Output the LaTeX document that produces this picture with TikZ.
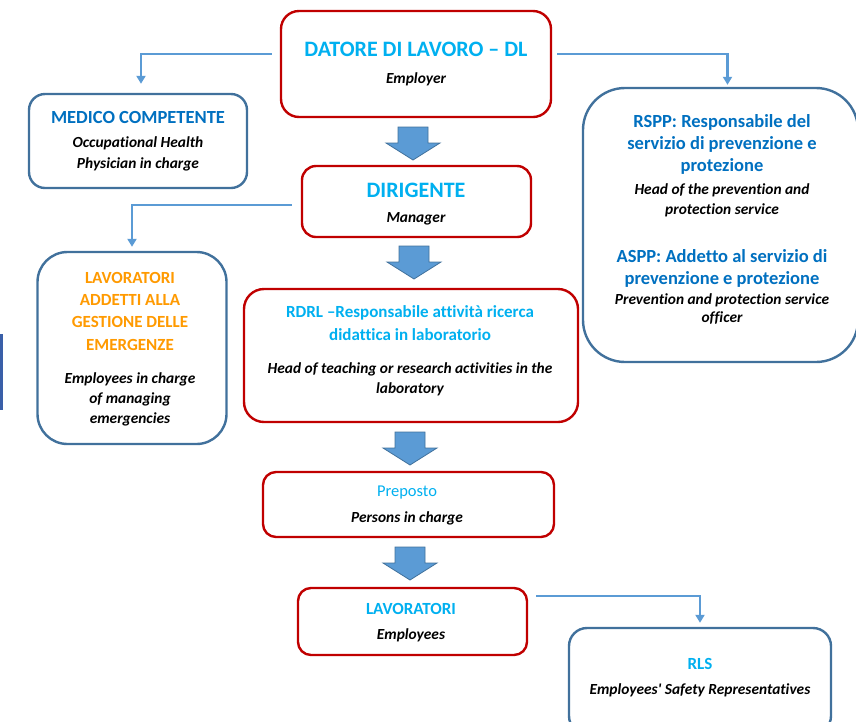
\documentclass[tikz,border=0pt]{standalone}
\usepackage{fontspec}
\setmainfont{Carlito}[Ligatures={TeXOff,NoCommon}]
\usetikzlibrary{arrows.meta}
\definecolor{ltblue}{HTML}{00B0F0}
\definecolor{dkblue}{HTML}{0070C0}
\definecolor{orng}{HTML}{FF9A00}
\definecolor{redc}{HTML}{C00000}
\definecolor{bluec}{HTML}{41719C}
\definecolor{connc}{HTML}{5B9BD5}
\definecolor{artc}{HTML}{3A5FA8}
\tikzset{
  box/.style={rectangle, fill=white, line width=2.4pt, inner sep=0pt},
  redbox/.style={box, draw=redc},
  bluebox/.style={box, draw=bluec},
  txt/.style={anchor=base, inner sep=0pt},
  hA/.style={txt, font=\bfseries\fontsize{22}{24}\selectfont, text=ltblue},
  hB/.style={txt, font=\bfseries\fontsize{18.5}{22}\selectfont, text=dkblue},
  hC/.style={txt, font=\bfseries\fontsize{17}{20}\selectfont, text=ltblue},
  hD/.style={txt, font=\bfseries\fontsize{17}{20}\selectfont, text=orng},
  hE/.style={txt, font=\fontsize{16.5}{20}\selectfont, text=ltblue},
  sub/.style={txt, font=\bfseries\itshape\fontsize{15.4}{18}\selectfont, text=black},
  conn/.style={draw=connc, line width=2.3pt, -{Triangle[width=9pt,length=8pt]}},
  blockarrow/.style={fill=connc, draw=bluec, line width=0.8pt, line join=miter}
}
\begin{document}
\begin{tikzpicture}[x=1pt,y=-1pt]
\useasboundingbox (0,0) rectangle (856,721);
\fill[artc] (0,334) rectangle (3,410);

% boxes
\node[redbox, rounded corners=18pt, minimum width=270pt, minimum height=106pt] (dl) at (416,64) {};
\node[bluebox, rounded corners=16pt, minimum width=218pt, minimum height=94pt] (medico) at (138,141) {};
\node[bluebox, rounded corners=42pt, minimum width=275pt, minimum height=274pt] (rspp) at (720.5,225) {};
\node[redbox, rounded corners=14pt, minimum width=229pt, minimum height=71pt] (dir) at (416.5,201.5) {};
\node[bluebox, rounded corners=30pt, minimum width=189pt, minimum height=192pt] (emerg) at (132,348) {};
\node[redbox, rounded corners=20pt, minimum width=334pt, minimum height=133pt] (rdrl) at (411,355.5) {};
\node[redbox, rounded corners=13pt, minimum width=291pt, minimum height=65pt] (prep) at (408.5,504.5) {};
\node[redbox, rounded corners=13pt, minimum width=229pt, minimum height=67pt] (lav) at (412.5,621.5) {};
\node[bluebox, rounded corners=18pt, minimum width=262pt, minimum height=106pt] (rls) at (700,681) {};

% texts
\node[hA] (dlt) at (416,56) {DATORE DI LAVORO – DL};
\node[sub] (dls) at (416,83) {Employer};

\node[hB] (medt) at (138,123) {MEDICO COMPETENTE};
\node[sub] (meds1) at (138,147) {Occupational Health};
\node[sub] (meds2) at (138,168) {Physician in charge};

\node[hB] (rst1) at (722,127) {RSPP: Responsabile del};
\node[hB] (rst2) at (722,149) {servizio di prevenzione e};
\node[hB] (rst3) at (722,171) {protezione};
\node[sub] (rss1) at (722,194) {Head of the prevention and};
\node[sub] (rss2) at (722,214) {protection service};
\node[hB] (ast1) at (722,262) {ASPP: Addetto al servizio di};
\node[hB] (ast2) at (722,284) {prevenzione e protezione};
\node[sub] (ass1) at (722,304) {Prevention and protection service};
\node[sub] (ass2) at (722,322) {officer};

\node[hA] (dirt) at (416,197) {DIRIGENTE};
\node[sub] (dirs) at (416,222) {Manager};

\node[hD] (emt1) at (130,283) {LAVORATORI};
\node[hD] (emt2) at (130,305) {ADDETTI ALLA};
\node[hD] (emt3) at (130,327) {GESTIONE DELLE};
\node[hD] (emt4) at (130,350) {EMERGENZE};
\node[sub] (ems1) at (130,383) {Employees in charge};
\node[sub] (ems2) at (130,403) {of managing};
\node[sub] (ems3) at (130,423) {emergencies};

\node[hC] (rdt1) at (410,317) {RDRL –Responsabile attività ricerca};
\node[hC] (rdt2) at (410,340) {didattica in laboratorio};
\node[sub] (rds1) at (410,373) {Head of teaching or research activities in the};
\node[sub] (rds2) at (410,393) {laboratory};

\node[hE] (prt) at (407,496) {Preposto};
\node[sub] (prs) at (407,522) {Persons in charge};

\node[hC] (lavt) at (411,614) {LAVORATORI};
\node[sub] (lavs) at (411,639) {Employees};

\node[hC] (rlst) at (700,669) {RLS};
\node[sub] (rlss) at (700,694) {Employees' Safety Representatives};

% connectors
\draw[conn] ([shift={(-8,-10)}]dl.west) -| ([shift={(3,-9)}]medico.north);
\draw[conn] ([shift={(5,-10)}]dl.east) -| ([shift={(7,-2)}]rspp.north);
\draw[conn] ([shift={(-9,3.5)}]dir.west) -| ([shift={(0,-4)}]emerg.north);
\draw[conn] ([shift={(8,-25.5)}]lav.east) -| ([shift={(0,-4)}]rls.north);

% block arrows
\coordinate (a1) at (413,127);
\coordinate (a2) at (414,246);
\coordinate (a3) at (410,432);
\coordinate (a4) at (410,547);
\foreach \a in {a1,a2,a3,a4}{
  \path[blockarrow] (\a) ++(-15,0) -- ++(30,0) -- ++(0,16) -- ++(12,0) -- ++(-27,17) -- ++(-27,-17) -- ++(12,0) -- cycle;
}
\end{tikzpicture}
\end{document}
